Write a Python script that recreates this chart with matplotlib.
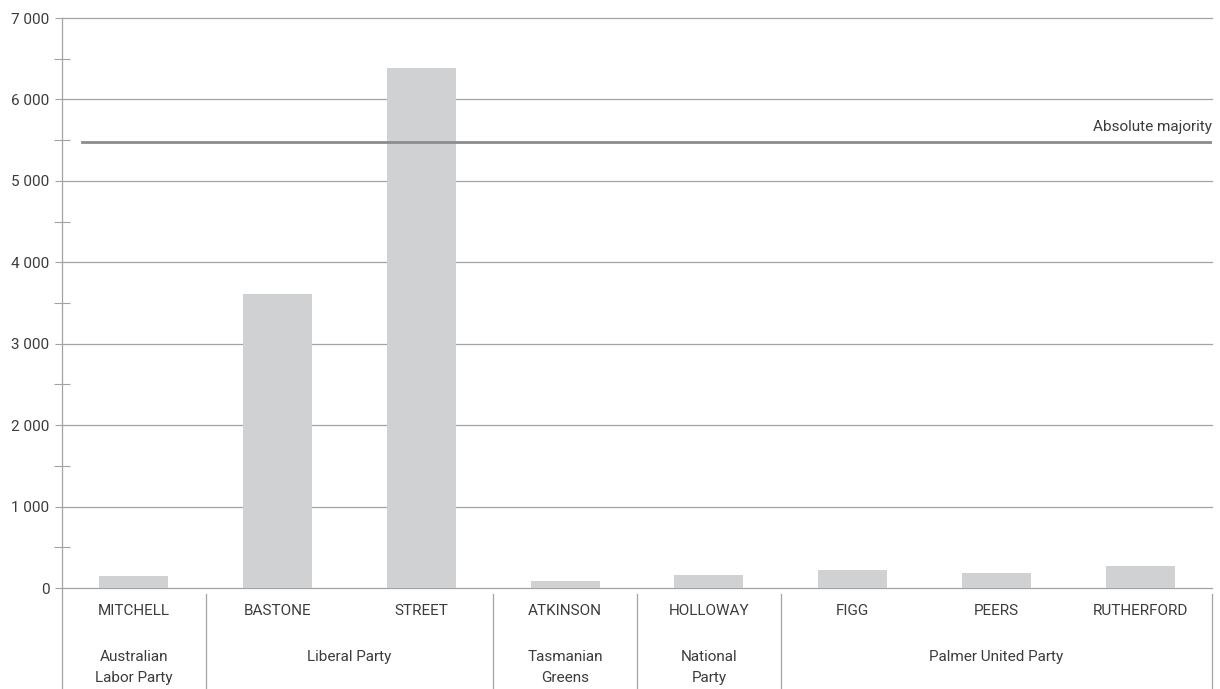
import matplotlib
matplotlib.use("Agg")
import matplotlib.pyplot as plt
from matplotlib.ticker import MultipleLocator, FuncFormatter

plt.rcParams['font.family'] = ['Roboto', 'DejaVu Sans']

# Data
candidates = ['MITCHELL', 'BASTONE', 'STREET', 'ATKINSON', 'HOLLOWAY', 'FIGG', 'PEERS', 'RUTHERFORD']
votes = [142, 3610, 6390, 90, 160, 222, 186, 272]
parties = ['Australian\nLabor Party', 'Liberal Party', 'Tasmanian\nGreens', 'National\nParty', 'Palmer United Party']
party_sizes = [1, 2, 1, 1, 3]
majority = 5480

W, H = 1220, 689
fig = plt.figure(figsize=(W / 100, H / 100), dpi=100)
ax = fig.add_axes([62 / W, (H - 588) / H, 1150 / W, 570 / H])

text_col = '#3c3c3c'
grid_col = '#a3a3a3'

x = range(len(candidates))
ax.bar(x, votes, width=0.48, color='#d0d1d3', zorder=2)
ax.set_xlim(-0.5, len(candidates) - 0.5)
ax.set_ylim(0, 7000)

# gridlines drawn by hand so the 0 and 7000 lines are not clipped
for v in range(0, 7001, 1000):
    ax.axhline(v, color=grid_col, lw=0.9, zorder=1, clip_on=False)

# majority line
ax.axhline(majority, xmin=20 / 1150, xmax=1, color='#8c8c8c', lw=2.0, zorder=3)
ax.text(1.0, majority + 90, 'Absolute majority', transform=ax.get_yaxis_transform(),
        ha='right', va='bottom', fontsize=11, color=text_col)

# y axis
ax.yaxis.set_major_locator(MultipleLocator(1000))
ax.yaxis.set_minor_locator(MultipleLocator(500))
ax.yaxis.set_major_formatter(FuncFormatter(lambda v, p: f'{int(v):,}'.replace(',', ' ')))
ax.tick_params(axis='y', which='major', length=5, width=0.8, color=grid_col,
               labelsize=11, labelcolor=text_col, pad=4)
ax.tick_params(axis='y', which='minor', direction='inout', length=11, width=0.8, color=grid_col)

for s in ['top', 'right', 'bottom', 'left']:
    ax.spines[s].set_visible(False)
ax.set_xticks([])

# left axis line running down through the category area
ax.plot([-0.5, -0.5], [1.0, -101 / 570], transform=ax.get_xaxis_transform(),
        color=grid_col, lw=0.9, clip_on=False)

# candidate labels
for i, name in enumerate(candidates):
    ax.text(i, -23 / 570, name, transform=ax.get_xaxis_transform(),
            ha='center', va='center', fontsize=11, color=text_col)

# party groups and separators
start = 0
for party, size in zip(parties, party_sizes):
    center = start + (size - 1) / 2
    ax.text(center, -62 / 570, party, transform=ax.get_xaxis_transform(),
            ha='center', va='top', fontsize=11, color=text_col, linespacing=1.6)
    end = start + size - 0.5
    ax.plot([end, end], [-6 / 570, -101 / 570], transform=ax.get_xaxis_transform(),
            color=grid_col, lw=0.9, clip_on=False)
    start += size

fig.savefig('out.png', dpi=100)
